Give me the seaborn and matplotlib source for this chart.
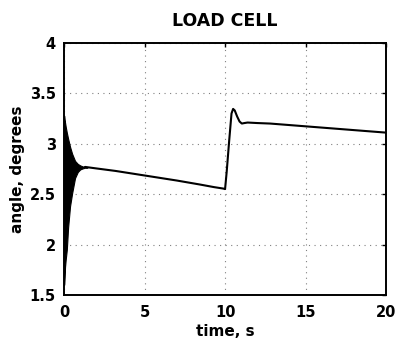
import matplotlib
matplotlib.use("Agg")
import matplotlib.pyplot as plt
import seaborn as sns
import pandas as pd

# Early transient: envelope of the fast oscillation right after start-up
band_t = [0.0, 0.03, 0.06, 0.10, 0.17, 0.25, 0.37, 0.50, 0.68, 0.85, 1.0, 1.15, 1.3, 1.45]
band_upper = [3.28, 3.24, 3.21, 3.17, 3.11, 3.05, 2.97, 2.90, 2.83, 2.80, 2.785, 2.775, 2.77, 2.765]
band_lower = [1.60, 1.68, 1.78, 1.85, 1.95, 2.17, 2.38, 2.51, 2.66, 2.72, 2.745, 2.755, 2.762, 2.764]

# Slow response after the transient, step disturbance at t = 10 s
time_s = [1.3, 2.0, 3.2, 5.0, 7.0, 8.45, 9.3, 9.9, 10.0, 10.1, 10.25, 10.4, 10.5,
          10.6, 10.75, 10.9, 11.04, 11.2, 11.4, 12.0, 12.8, 14.0, 16.0, 18.0, 20.0]
angle_deg = [2.77, 2.755, 2.73, 2.685, 2.635, 2.595, 2.57, 2.555, 2.55, 2.72, 3.02, 3.30, 3.345,
             3.33, 3.27, 3.22, 3.20, 3.205, 3.21, 3.205, 3.20, 3.185, 3.16, 3.135, 3.11]

x_ticks = [0, 5, 10, 15, 20]
y_ticks = [1.5, 2, 2.5, 3, 3.5, 4]
y_tick_labels = ["1.5", "2", "2.5", "3", "3.5", "4"]

sns.set_theme(style="white")
plt.rcParams["font.family"] = ["DejaVu Sans"]
plt.rcParams["text.color"] = "black"
plt.rcParams["axes.labelcolor"] = "black"

fig = plt.figure(figsize=(3.98, 3.43), dpi=100)
ax = fig.add_axes([0.161, 0.140, 0.809, 0.735])

ax.fill_between(band_t, band_lower, band_upper, color="black", linewidth=0.8,
                edgecolor="black")
df = pd.DataFrame({"time": time_s, "angle": angle_deg})
sns.lineplot(data=df, x="time", y="angle", ax=ax, color="black", linewidth=1.5,
             estimator=None, sort=False)

ax.set_xlim(0, 20)
ax.set_ylim(1.5, 4)
ax.set_xticks(x_ticks)
ax.set_xticklabels([str(v) for v in x_ticks])
ax.set_yticks(y_ticks)
ax.set_yticklabels(y_tick_labels)

ax.grid(True, color="0.5", linestyle=(0, (1, 4)), linewidth=0.8)
for side in ax.spines.values():
    side.set_color("black")
    side.set_linewidth(1.4)

ax.tick_params(axis="both", direction="in", length=3, width=1, colors="black",
               top=True, right=True, labelsize=10.5)
ax.tick_params(axis="x", pad=7)
ax.tick_params(axis="y", pad=6)
for lab in ax.get_xticklabels() + ax.get_yticklabels():
    lab.set_fontweight("bold")

ax.set_title("LOAD CELL", fontsize=12.5, fontweight="bold", pad=12, color="black")
ax.set_xlabel("time, s", fontsize=11, fontweight="bold", labelpad=3)
ax.set_ylabel("angle, degrees", fontsize=11, fontweight="bold", labelpad=3)

fig.savefig("out.png", dpi=100, facecolor="white")
